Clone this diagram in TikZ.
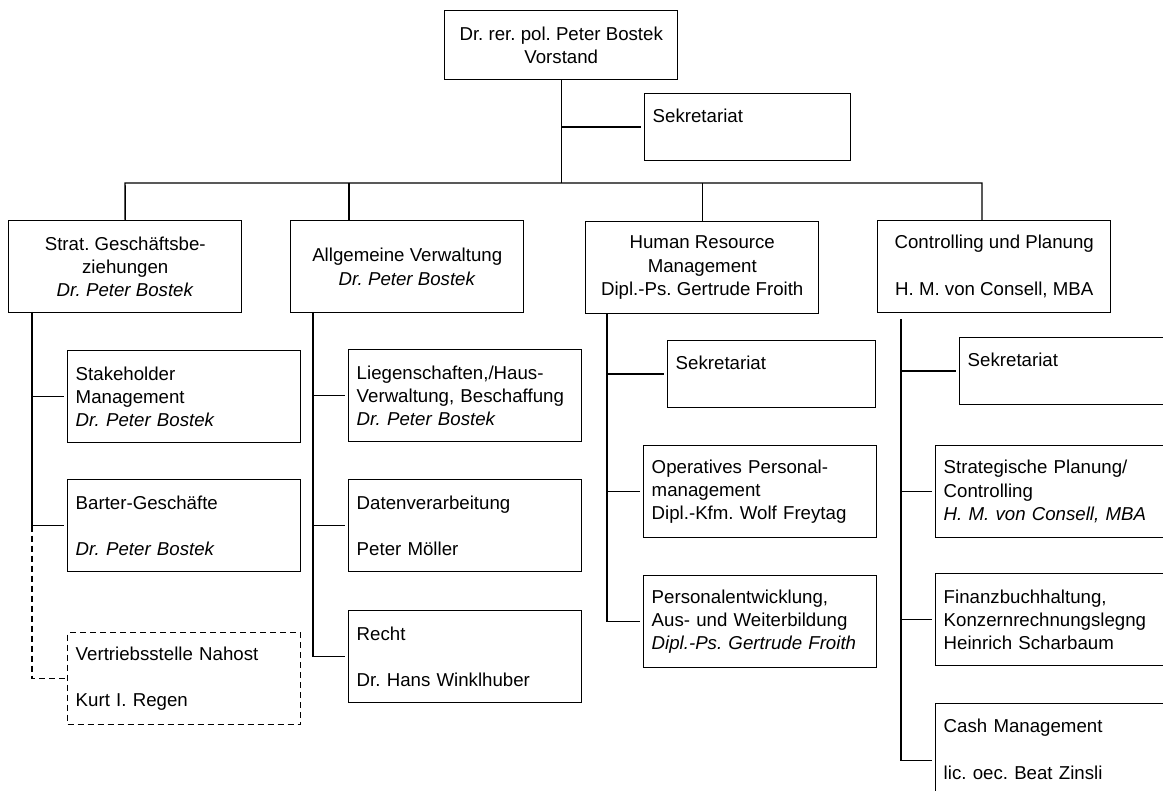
\documentclass[tikz,border=0pt]{standalone}
\usepackage{fontspec}
\setmainfont{Liberation Sans}
\frenchspacing
\hyphenpenalty=10000
\exhyphenpenalty=10000

\tikzset{
	unit/.style={draw,line width=1.1pt,anchor=north west,inner sep=0pt,
		minimum width=174.75pt,minimum height=69pt,align=center,
		font=\fontsize{14}{17.5}\selectfont},
	dept/.style={unit,align=left,inner xsep=6pt,text width=162.75pt},
	sek/.style={dept,minimum width=0pt,minimum height=50pt,text width=144pt},
	dashline/.style={dash pattern=on 4.5pt off 3pt},
	ext/.style={dept,dashline},
	branch/.style={line width=1.1pt,shorten >=2pt},
}

\begin{document}
\begin{tikzpicture}[x=0.75pt,y=-0.75pt]
	\useasboundingbox (0,0) rectangle (1163,791);
	\clip (0,0) rectangle (1163,791);

	% Vorstand
	\node[unit,minimum height=51.75pt] (vorstand) at (444,10) {Dr. rer. pol. Peter Bostek\\Vorstand};
	\node[sek,text width=142.5pt] (sek0) at (644,93) {Sekretariat\\ \mbox{}};

	% Bereiche
	\node[unit] (strat) at (8,220) {Strat. Geschäftsbe-\\ziehungen\\\textit{Dr. Peter Bostek}};
	\node[unit] (verw) at (290,220) {Allgemeine Verwaltung\\\textit{Dr. Peter Bostek}};
	\node[unit] (hrm) at (585,221) {Human Resource\\Management\\Dipl.-Ps. Gertrude Froith};
	\node[unit] (contr) at (877,220) {Controlling und Planung\\ \mbox{}\\H. M. von Consell, MBA};

	% Abteilungen
	\node[dept] (stake) at (67,350) {Stakeholder\\Management\\\textit{Dr. Peter Bostek}};
	\node[dept] (barter) at (67,479) {Barter-Geschäfte\\ \mbox{}\\\textit{Dr. Peter Bostek}};
	\node[ext] (nahost) at (67,632) {Vertriebsstelle Nahost\\ \mbox{}\\Kurt I. Regen};

	\node[dept] (lieg) at (348,349) {Liegenschaften,/Haus-\\Verwaltung, Beschaffung\\\textit{Dr. Peter Bostek}};
	\node[dept] (daten) at (348,479) {Datenverarbeitung\\ \mbox{}\\Peter Möller};
	\node[dept] (recht) at (348,610) {Recht\\ \mbox{}\\Dr. Hans Winklhuber};

	\node[sek] (sek3) at (667,340) {Sekretariat\\ \mbox{}};
	\node[dept] (oper) at (643,445) {Operatives Personal-\\management\\Dipl.-Kfm. Wolf Freytag};
	\node[dept] (pers) at (643,575) {Personalentwicklung,\\Aus- und Weiterbildung\\\textit{Dipl.-Ps. Gertrude Froith}};

	\node[sek] (sek4) at (959,337) {Sekretariat\\ \mbox{}};
	\node[dept] (plan) at (935,445) {Strategische Planung/\\Controlling\\\textit{H. M. von Consell, MBA}};
	\node[dept] (finanz) at (935,573) {Finanzbuchhaltung,\\Konzernrechnungslegng\\Heinrich Scharbaum};
	\node[dept,minimum height=85.5pt] (cash) at (935,703) {Cash Management\\ \mbox{}\\lic. oec. Beat Zinsli\\ \mbox{}};

	% Linien
	\coordinate (busL) at (125,183);
	\coordinate (busR) at (982,183);
	\coordinate (drop2) at (349,183);
	\coordinate (trunk1) at (32,312);
	\coordinate (trunk2) at (313,312);
	\coordinate (trunk3) at (607,314);
	\coordinate (trunk4) at (901,319);

	\draw[line width=1.1pt] (vorstand.south) -- (vorstand.south |- busL);
	\draw[branch] (vorstand.south |- sek0.west) -- (sek0.west);
	\draw[line width=1.1pt] (strat.north) -- (busL) -- (busR) -- (busR |- contr.north);
	\draw[line width=1.1pt] (drop2) -- (drop2 |- verw.north);
	\draw[line width=1.1pt] (hrm.north |- busL) -- (hrm.north);

	\draw[line width=1.1pt] (trunk1) -- (trunk1 |- barter.west);
	\draw[branch] (trunk1 |- stake.west) -- (stake.west);
	\draw[branch] (trunk1 |- barter.west) -- (barter.west);
	\draw[line width=1.1pt,dashline] (trunk1 |- barter.west) -- (trunk1 |- nahost.west) -- (nahost.west);

	\draw[line width=1.1pt] (trunk2) -- (trunk2 |- recht.west);
	\foreach \n in {lieg,daten,recht}
		\draw[branch] (trunk2 |- \n.west) -- (\n.west);

	\draw[line width=1.1pt] (trunk3) -- (trunk3 |- pers.west);
	\foreach \n in {sek3,oper,pers}
		\draw[branch] (trunk3 |- \n.west) -- (\n.west);

	\draw[line width=1.1pt] (trunk4) -- (trunk4 |- cash.west);
	\foreach \n in {sek4,plan,finanz,cash}
		\draw[branch] (trunk4 |- \n.west) -- (\n.west);
\end{tikzpicture}
\end{document}
